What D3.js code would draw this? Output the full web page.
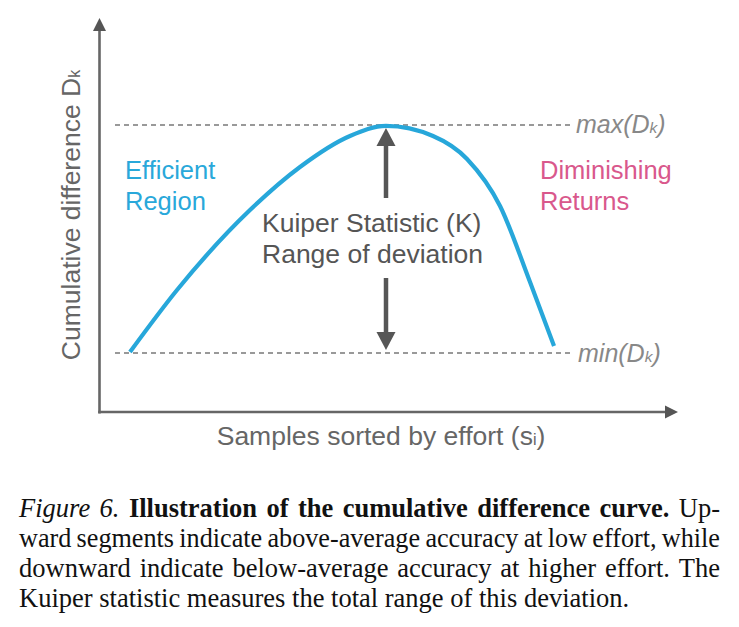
<!DOCTYPE html>
<html>
<head>
<meta charset="utf-8">
<script src="https://cdn.jsdelivr.net/npm/d3@7"></script>
<style>
  html, body { margin: 0; padding: 0; background: #fff; }
  svg { display: block; }
</style>
</head>
<body>
<svg id="chart" width="739" height="627"></svg>
<script>
// ---- data ----
const effort   = [5.17, 13.28, 25.86, 34.48, 43.10, 49.31, 57.41, 63.28, 68.97, 74.14, 78.28];
const cumDiff  = [0.44, 27.63, 62.7, 81.58, 95.18, 99.6, 95.18, 85.09, 64.47, 31.14, 3.07];
const refLines = [{label: "max", value: 100}, {label: "min", value: 0}];
const regionLabels = [["Efficient", "Region"], ["Diminishing", "Returns"]];
const kuiperLines = ["Kuiper Statistic (K)", "Range of deviation"];
const captionLines = [
  [{t: "Figure 6.", s: "italic"}, {t: "Illustration of the cumulative difference curve.", s: "bold"}, {t: "Up-", s: "normal"}],
  [{t: "ward segments indicate above-average accuracy at low effort, while", s: "normal"}],
  [{t: "downward indicate below-average accuracy at higher effort. The", s: "normal"}],
  [{t: "Kuiper statistic measures the total range of this deviation.", s: "normal"}]
];

const svg = d3.select("#chart");
svg.append("rect").attr("width", 739).attr("height", 627).attr("fill", "#fff");

const x = d3.scaleLinear().domain([0, 100]).range([100, 680]);
const y = d3.scaleLinear().domain([0, 100]).range([353, 125]);

const axisColor = "#666";
const sans = "'Liberation Sans', Arial, Helvetica, sans-serif";

// axes
const x0 = 99.5, yAxis = 412, yTop = 18, xRight = 678;
svg.append("line").attr("x1", x0).attr("x2", x0).attr("y1", yAxis + 1.5).attr("y2", yTop + 10)
  .attr("stroke", axisColor).attr("stroke-width", 2.6);
svg.append("path").attr("d", `M${x0},${yTop} L${x0 - 6.5},${yTop + 13} L${x0 + 6.5},${yTop + 13} Z`).attr("fill", "#555");
svg.append("line").attr("x1", x0 - 1.3).attr("x2", xRight - 10).attr("y1", yAxis).attr("y2", yAxis)
  .attr("stroke", axisColor).attr("stroke-width", 2.6);
svg.append("path").attr("d", `M${xRight},${yAxis} L${xRight - 13},${yAxis - 6.5} L${xRight - 13},${yAxis + 6.5} Z`).attr("fill", "#555");

// dashed reference lines
svg.selectAll(".ref").data(refLines).enter().append("line")
  .attr("x1", 115).attr("x2", 573)
  .attr("y1", d => y(d.value)).attr("y2", d => y(d.value))
  .attr("stroke", "#999").attr("stroke-width", 1.8).attr("stroke-dasharray", "5,4");

// ref labels
svg.selectAll(".reflab").data(refLines).enter().append("text")
  .attr("x", d => d.label === "max" ? 576 : 578)
  .attr("y", d => y(d.value) + (d.label === "max" ? 8 : 9))
  .attr("font-family", sans).attr("font-style", "italic").attr("font-size", 25).attr("fill", "#888")
  .each(function(d) {
    const t = d3.select(this);
    t.append("tspan").text(d.label + "(D");
    t.append("tspan").attr("font-size", 15.5).text("k");
    t.append("tspan").text(")");
  });

// curve
const pts = effort.map((e, i) => [e, cumDiff[i]]);
const line = d3.line().x(d => x(d[0])).y(d => y(d[1])).curve(d3.curveMonotoneX);
svg.append("path").attr("d", line(pts)).attr("fill", "none")
  .attr("stroke", "#27a7da").attr("stroke-width", 4.2).attr("stroke-linecap", "butt");

// Kuiper arrows
const peakIdx = cumDiff.indexOf(d3.max(cumDiff));
const ax = x(effort[peakIdx]);
const arrowCol = "#565656";
const ahW = 9.5, ahH = 18;
const upTip = y(d3.max(cumDiff)) + 2, downTip = y(d3.min(cumDiff)) - 2;
svg.append("line").attr("x1", ax).attr("x2", ax).attr("y1", upTip + ahH - 1).attr("y2", 198)
  .attr("stroke", arrowCol).attr("stroke-width", 4.5);
svg.append("path").attr("d", `M${ax},${upTip} L${ax - ahW},${upTip + ahH} L${ax + ahW},${upTip + ahH} Z`).attr("fill", arrowCol);
svg.append("line").attr("x1", ax).attr("x2", ax).attr("y1", 278).attr("y2", downTip - ahH + 1)
  .attr("stroke", arrowCol).attr("stroke-width", 4.5);
svg.append("path").attr("d", `M${ax},${downTip} L${ax - ahW},${downTip - ahH} L${ax + ahW},${downTip - ahH} Z`).attr("fill", arrowCol);

// Kuiper text
svg.selectAll(".kt").data(kuiperLines).enter().append("text")
  .attr("x", 262).attr("y", (d, i) => 232 + i * 31)
  .attr("font-family", sans).attr("font-size", 26.5).attr("fill", "#555").text(d => d);

// region labels
const regionColors = ["#29a8da", "#d9588c"];
const regionX = [125, 540];
regionLabels.forEach((lines, j) => {
  svg.selectAll(".rl" + j).data(lines).enter().append("text")
    .attr("x", regionX[j]).attr("y", (d, i) => 179 + i * 31)
    .attr("font-family", sans).attr("font-size", 25.5).attr("fill", regionColors[j]).text(d => d);
});

// axis titles
const yl = svg.append("text").attr("transform", "translate(80,215) rotate(-90)")
  .attr("text-anchor", "middle").attr("font-family", sans).attr("font-size", 26.5).attr("fill", axisColor);
yl.append("tspan").text("Cumulative difference D");
yl.append("tspan").attr("font-size", 16).text("k");

const xl = svg.append("text").attr("x", 381).attr("y", 445)
  .attr("text-anchor", "middle").attr("font-family", sans).attr("font-size", 26.5).attr("fill", axisColor);
xl.append("tspan").text("Samples sorted by effort (s");
xl.append("tspan").attr("font-size", 16).text("i");
xl.append("tspan").text(")");

// caption (justified)
const serif = "'Liberation Serif', 'Times New Roman', Times, serif";
const capLeft = 19, capRight = 720, capSize = 26.5, capBase = 517, capLead = 30;
captionLines.forEach((segs, li) => {
  const words = [];
  segs.forEach(sg => sg.t.split(" ").forEach(w => words.push({w, s: sg.s})));
  const g = svg.append("text").attr("y", capBase + li * capLead)
    .attr("font-family", serif).attr("font-size", capSize).attr("fill", "#111");
  const spans = words.map(wd => g.append("tspan")
    .attr("font-style", wd.s === "italic" ? "italic" : "normal")
    .attr("font-weight", wd.s === "bold" ? "bold" : "normal")
    .text(wd.w));
  const widths = spans.map(sp => sp.node().getComputedTextLength());
  const total = d3.sum(widths);
  const avail = capRight - capLeft;
  const justify = li < captionLines.length - 1;
  const minGap = capSize * 0.2;
  let gap = justify ? (avail - total) / (words.length - 1) : capSize * 0.25;
  let sx = 1;
  if (justify && gap < minGap) { gap = minGap; sx = avail / (total + minGap * (words.length - 1)); }
  g.attr("transform", `translate(${capLeft},0) scale(${sx},1)`);
  let cx = 0;
  spans.forEach((sp, i) => { sp.attr("x", cx); cx += widths[i] + gap; });
});
</script>
</body>
</html>
